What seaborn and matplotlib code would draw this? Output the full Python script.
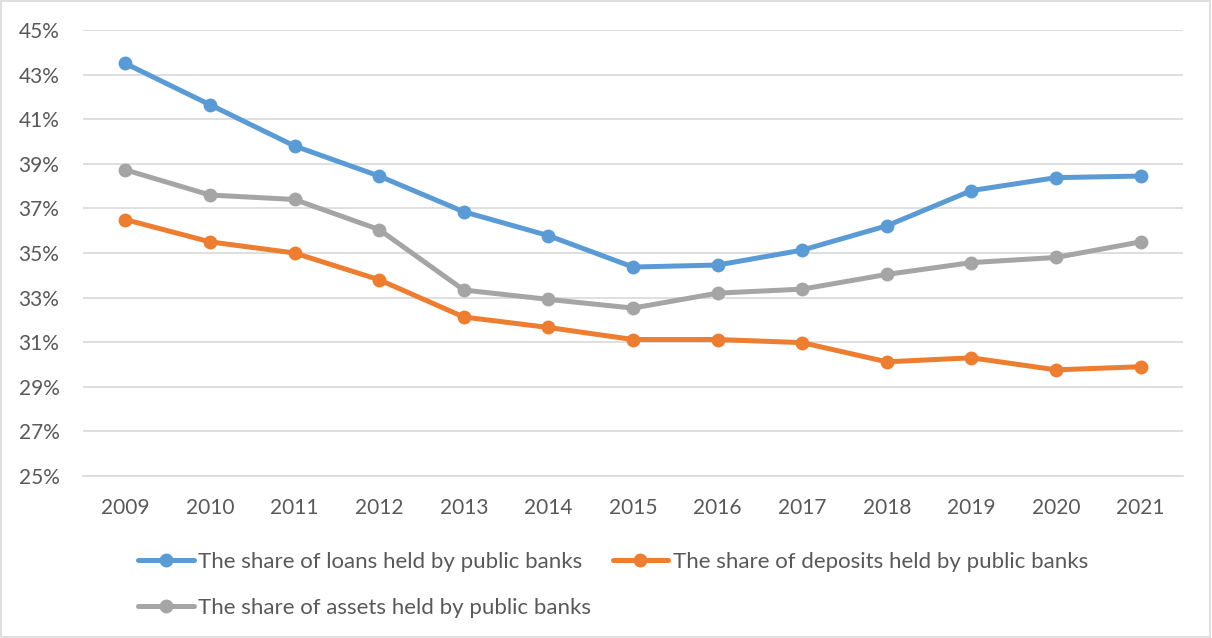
import pandas as pd
import seaborn as sns
import matplotlib.pyplot as plt
from matplotlib.ticker import FuncFormatter
from matplotlib.patches import Rectangle

# values, in %
years = [2009, 2010, 2011, 2012, 2013, 2014, 2015, 2016, 2017, 2018, 2019, 2020, 2021]
loans = [43.5, 41.65, 39.8, 38.45, 36.85, 35.78, 34.37, 34.46, 35.13, 36.22, 37.8, 38.38, 38.45]
deposits = [36.5, 35.5, 35.0, 33.8, 32.13, 31.66, 31.12, 31.12, 30.98, 30.12, 30.3, 29.76, 29.9]
assets = [38.73, 37.6, 37.4, 36.05, 33.34, 32.92, 32.53, 33.2, 33.38, 34.04, 34.57, 34.8, 35.5]

names = ["The share of loans held by public banks",
         "The share of deposits held by public banks",
         "The share of assets held by public banks"]
colors = ["#5B9BD5", "#ED7D31", "#A5A5A5"]

df = pd.DataFrame({"year": years * 3,
                   "value": loans + deposits + assets,
                   "series": [names[0]] * 13 + [names[1]] * 13 + [names[2]] * 13})

sns.set_style("white")
plt.rcParams['font.family'] = ['Lato', 'DejaVu Sans']

fig = plt.figure(figsize=(12.12, 6.38), dpi=100)
ax = fig.add_axes([83 / 1212, 1 - 476 / 638, 1100 / 1212, 446 / 638])

sns.lineplot(data=df, x="year", y="value", hue="series", hue_order=names,
             palette=colors, marker="o", markersize=10, markeredgewidth=0,
             linewidth=3.6, ax=ax, legend=False)

ax.set_xlim(2008.5, 2021.5)
ax.set_ylim(25, 45)
ax.set_yticks(range(25, 46, 2))
ax.set_xticks(years)
ax.yaxis.set_major_formatter(FuncFormatter(lambda v, p: f"{v:.0f}%"))
ax.grid(axis="y", color="#D9D9D9", linewidth=1.2)
ax.set_axisbelow(True)
for s in ["top", "right", "left"]:
    ax.spines[s].set_visible(False)
ax.spines["bottom"].set_color("#D9D9D9")
ax.spines["bottom"].set_linewidth(1.2)
ax.tick_params(axis="both", length=0, labelsize=15, labelcolor="#595959")
ax.tick_params(axis="x", pad=16)
ax.tick_params(axis="y", pad=17)
ax.set_xlabel("")
ax.set_ylabel("")

# legend: loans, deposits on row one; assets on row two
handles = [plt.Line2D([], [], color=c, linewidth=3.6, marker="o", markersize=10,
                      markeredgewidth=0) for c in colors]
order = [0, 2, 1]
fig.legend([handles[i] for i in order], [names[i] for i in order], ncol=2,
           loc="upper left", bbox_to_anchor=(127 / 1212, 1 - 541 / 638),
           frameon=False, fontsize=16, labelcolor="#595959", borderpad=0,
           handlelength=2.5, handletextpad=0.2, columnspacing=0.97,
           labelspacing=1.15)

fig.patches.append(Rectangle((0.001, 0.001), 0.997, 0.997, transform=fig.transFigure,
                             fill=False, edgecolor="#D9D9D9", linewidth=1.2))

fig.savefig("out.png", dpi=100)
